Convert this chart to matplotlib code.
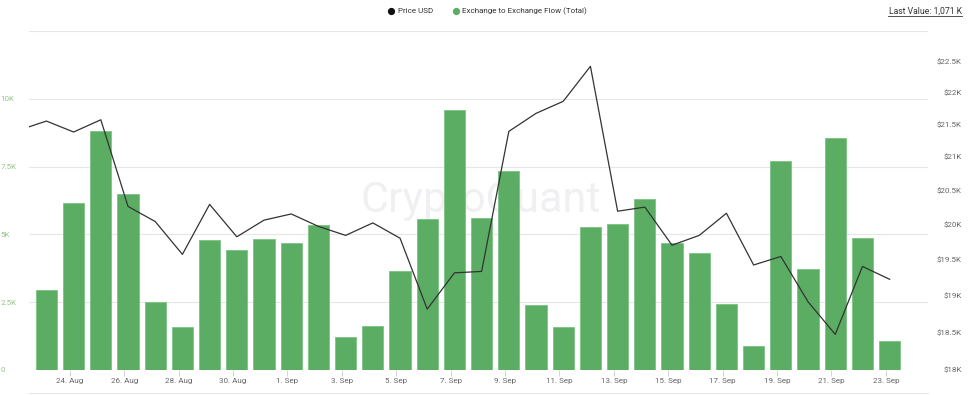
import numpy as np
import matplotlib
matplotlib.use("Agg")
import matplotlib.pyplot as plt
from matplotlib.ticker import FixedLocator, NullLocator
from matplotlib.lines import Line2D

# ---- data ----
dates = ["23. Aug", "24. Aug", "25. Aug", "26. Aug", "27. Aug", "28. Aug", "29. Aug",
         "30. Aug", "31. Aug", "1. Sep", "2. Sep", "3. Sep", "4. Sep", "5. Sep",
         "6. Sep", "7. Sep", "8. Sep", "9. Sep", "10. Sep", "11. Sep", "12. Sep",
         "13. Sep", "14. Sep", "15. Sep", "16. Sep", "17. Sep", "18. Sep", "19. Sep",
         "20. Sep", "21. Sep", "22. Sep", "23. Sep"]
flow = [2950, 6160, 8810, 6490, 2500, 1590, 4790, 4420, 4830, 4680, 5350, 1220,
        1620, 3650, 5570, 9590, 5600, 7340, 2400, 1590, 5270, 5380, 6310, 4680,
        4310, 2430, 880, 7710, 3720, 8550, 4870, 1071]
# price starts one day earlier (22. Aug), partly clipped at left edge
price = [21410, 21550, 21380, 21570, 20260, 20040, 19570, 20290, 19820, 20060,
         20150, 19970, 19840, 20020, 19800, 18810, 19310, 19330, 21390, 21670,
         21860, 22420, 20190, 20250, 19700, 19840, 20160, 19420, 19540, 18910,
         18470, 19400, 19220]
left_ticks = [0, 2500, 5000, 7500, 10000, 12500]
left_labels = ["0", "2.5K", "5K", "7.5K", "10K", ""]
right_ticks = [18000, 18500, 19000, 19500, 20000, 20500, 21000, 21500, 22000, 22500]
right_labels = ["$18K", "$18.5K", "$19K", "$19.5K", "$20K", "$20.5K", "$21K",
                "$21.5K", "$22K", "$22.5K"]

W, H = 973, 395
fig = plt.figure(figsize=(W / 100, H / 100), dpi=100)
plt.rcParams['font.family'] = ['Roboto', 'DejaVu Sans']

L, R, T, B = 29, 928, 31, 370
ax = fig.add_axes([L / W, 1 - B / H, (R - L) / W, (B - T) / H])

x = np.arange(len(flow))
xp = np.arange(-1, len(price) - 1)

# watermark
ax.text(0.502, 0.5, "CryptoQuant", transform=ax.transAxes, ha="center", va="center",
        fontsize=31, color="#f0f0f3", zorder=0)

ax.bar(x, flow, width=0.78, color="#5bad63", edgecolor="#7cc283", linewidth=0.6, zorder=2)
ax.set_ylim(0, 12500)
ax.set_xlim(-0.64, 32.41)
ax.yaxis.set_major_locator(FixedLocator(left_ticks))
ax.set_yticklabels(left_labels)
ax.grid(axis="y", color="#e6e6e6", linewidth=0.8, zorder=0)
ax.set_axisbelow(True)
for s in ax.spines.values():
    s.set_visible(False)
ax.tick_params(axis="y", length=0, pad=20.5, labelsize=5.8, labelcolor="#98c48a")
for lab in ax.get_yticklabels():
    lab.set_horizontalalignment("left")

tick_idx = list(range(1, len(dates), 2))
ax.set_xticks([i - 0.14 for i in tick_idx])
ax.set_xticklabels([dates[i] for i in tick_idx])
ax.tick_params(axis="x", length=4, width=0.6, color="#cccccc", pad=2,
               labelsize=5.8, labelcolor="#666666")

ax2 = ax.twinx()
ax2.set_yscale("log")
ax2.plot(xp, price, color="#333333", linewidth=0.9, zorder=3)
ax2.set_ylim(18000, 23000)
ax2.yaxis.set_major_locator(FixedLocator(right_ticks))
ax2.yaxis.set_minor_locator(NullLocator())
ax2.set_yticklabels(right_labels)
ax2.tick_params(axis="y", which="both", length=0, pad=24.5, labelsize=5.8,
                labelcolor="#666666")
for lab in ax2.get_yticklabels():
    lab.set_horizontalalignment("right")
for s in ax2.spines.values():
    s.set_visible(False)
ax2.set_xlim(-0.64, 32.41)

# legend / header
ov = fig.add_axes([0, 0, 1, 1], facecolor="none")
ov.set_xlim(0, W)
ov.set_ylim(H, 0)
ov.axis("off")
ov.plot([391], [11], marker="o", markersize=4.2, color="#111111", linestyle="none")
ov.text(398, 11, "Price USD", fontsize=5.8, color="#333333", va="center")
ov.plot([456], [11], marker="o", markersize=4.2, color="#5bad63", linestyle="none")
ov.text(462, 11, "Exchange to Exchange Flow (Total)", fontsize=5.8, color="#333333",
        va="center")
ov.text(962, 11, "Last Value: 1,071 K", fontsize=6.2, color="#333333", va="center",
        ha="right")
ov.add_line(Line2D([888, 962], [16, 16], color="#333333", linewidth=0.6))
ov.add_line(Line2D([29, 928], [393, 393], color="#e6e6e6", linewidth=0.8))

fig.savefig("out.png", dpi=100)
